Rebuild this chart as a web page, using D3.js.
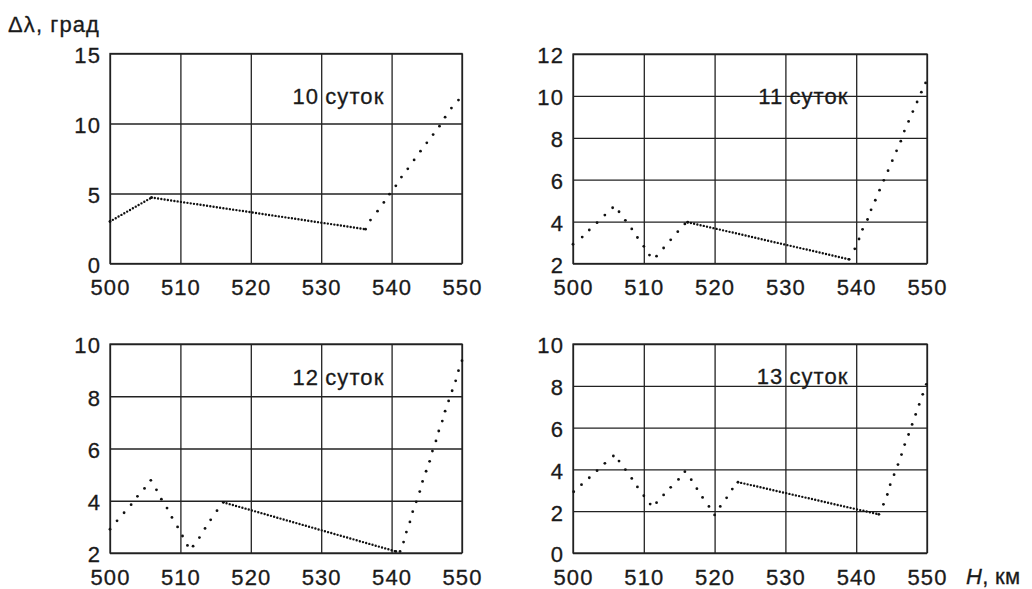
<!DOCTYPE html>
<html><head><meta charset="utf-8">
<script src="https://cdn.jsdelivr.net/npm/d3@7"></script>
<style>
body{margin:0;background:#fff;}
svg text{font-family:"Liberation Sans",Arial,sans-serif;font-size:22px;fill:#1a1a1a;letter-spacing:1.1px;stroke:#1a1a1a;stroke-width:0.3px;}
</style></head><body>
<svg id="c" width="1032" height="589"></svg>
<script>
// ---- data ----
const xTicks = [500, 510, 520, 530, 540, 550];
const labels = ["10", "11", "12", "13"];
const labelWord = "суток";
const yTitle = "Δλ, град";
const xTitle = ["H", ", км"];

const yDomain10 = [0, 15], yTicks10 = [0, 5, 10, 15];
const yDomain11 = [2, 12], yTicks11 = [2, 4, 6, 8, 10, 12];
const yDomain12 = [2, 10], yTicks12 = [2, 4, 6, 8, 10];
const yDomain13 = [0, 10], yTicks13 = [0, 2, 4, 6, 8, 10];

const h10 = [500, 505.9, 536.3, 537.0, 538.0, 538.9, 539.7, 540.6, 541.4, 542.3, 543.2, 544.1, 545.0, 545.9, 546.8, 547.6, 548.5, 549.5];
const v10 = [3.0, 4.71, 2.45, 3.10, 3.74, 4.36, 4.95, 5.55, 6.17, 6.76, 7.40, 8.02, 8.62, 9.21, 9.81, 10.45, 11.10, 11.67];

const h11 = [500.0, 501.3, 502.3, 503.4, 504.5, 505.6, 506.5, 507.4, 508.3, 509.1, 510.0, 510.8, 511.8, 512.8, 513.8, 514.8, 515.8, 516.2, 539.0, 539.8, 540.4, 540.9, 541.6, 542.1, 542.7, 543.3, 543.9, 544.5, 545.1, 545.7, 546.3, 546.8, 547.4, 548.0, 548.6, 549.2, 549.8];
const v11 = [2.92, 3.26, 3.60, 3.95, 4.31, 4.66, 4.47, 4.06, 3.65, 3.24, 2.82, 2.40, 2.35, 2.74, 3.13, 3.52, 3.89, 3.97, 2.20, 2.70, 3.17, 3.63, 4.10, 4.56, 5.02, 5.50, 5.97, 6.43, 6.91, 7.38, 7.84, 8.32, 8.78, 9.25, 9.71, 10.18, 10.62];

const h12 = [500.0, 501.0, 502.0, 503.0, 503.9, 504.9, 505.8, 506.6, 507.3, 508.1, 508.8, 509.6, 510.3, 511.0, 511.8, 512.7, 513.5, 514.3, 515.2, 516.1, 540.6, 541.2, 541.7, 542.1, 542.6, 543.0, 543.5, 544.0, 544.4, 544.9, 545.4, 545.8, 546.3, 546.7, 547.2, 547.6, 548.1, 548.6, 549.1, 549.5, 550.0];
const v12 = [2.91, 3.23, 3.54, 3.85, 4.17, 4.47, 4.78, 4.42, 4.06, 3.72, 3.36, 3.00, 2.65, 2.29, 2.26, 2.59, 2.94, 3.27, 3.62, 3.94, 2.06, 2.06, 2.42, 2.80, 3.19, 3.58, 3.96, 4.35, 4.74, 5.13, 5.51, 5.90, 6.29, 6.67, 7.05, 7.43, 7.82, 8.21, 8.59, 8.98, 9.36];

const h13 = [500.1, 501.2, 502.3, 503.4, 504.5, 505.7, 506.5, 507.4, 508.3, 509.1, 510.0, 510.9, 511.8, 512.8, 513.8, 514.9, 515.8, 516.7, 517.5, 518.3, 519.2, 520.0, 520.8, 521.7, 522.5, 523.3, 543.2, 543.85, 544.4, 544.8, 545.35, 545.9, 546.4, 546.85, 547.4, 547.9, 548.4, 548.9, 549.4, 549.9];
const v13 = [2.93, 3.27, 3.60, 3.94, 4.29, 4.64, 4.40, 3.99, 3.57, 3.16, 2.74, 2.34, 2.41, 2.78, 3.14, 3.52, 3.89, 3.51, 3.08, 2.66, 2.23, 1.82, 2.23, 2.64, 3.06, 3.39, 1.85, 2.33, 2.80, 3.27, 3.75, 4.23, 4.71, 5.19, 5.67, 6.15, 6.63, 7.11, 7.59, 8.07];

// label vertical positions (in data units of each panel)
const labelY = [11.4, 9.6, 8.43, 8.09];

// ---- layout ----
const panels = [
  {x0:110, x1:462, y0:53.5, y1:263.5, dom:yDomain10, ticks:yTicks10, h:h10, v:v10},
  {x0:573, x1:927, y0:54,   y1:263.5, dom:yDomain11, ticks:yTicks11, h:h11, v:v11},
  {x0:110, x1:462, y0:344,  y1:553,   dom:yDomain12, ticks:yTicks12, h:h12, v:v12},
  {x0:573, x1:927, y0:344,  y1:553,   dom:yDomain13, ticks:yTicks13, h:h13, v:v13}
];

const svg = d3.select("#c");
const ink = "#222";

panels.forEach((p, i) => {
  const x = d3.scaleLinear().domain([500, 550]).range([p.x0, p.x1]);
  const y = d3.scaleLinear().domain(p.dom).range([p.y1, p.y0]);
  const g = svg.append("g");
  const w = p.x1 - p.x0, hgt = p.y1 - p.y0;

  const gx = g.append("g").attr("transform", `translate(0,${p.y1})`)
    .call(d3.axisBottom(x).tickValues(xTicks).tickFormat(d3.format("d")).tickSize(-hgt).tickPadding(16));
  const gy = g.append("g").attr("transform", `translate(${p.x0},0)`)
    .call(d3.axisLeft(y).tickValues(p.ticks).tickFormat(d3.format("d")).tickSize(-w).tickPadding(9));
  [gx, gy].forEach(a => {
    a.select(".domain").remove();
    a.selectAll(".tick line").attr("stroke", ink).attr("stroke-width", 1.3);
    a.selectAll(".tick text").attr("fill", "#1a1a1a").style("font-size", "22px")
      .style("font-family", '"Liberation Sans",Arial,sans-serif');
  });
  gy.selectAll(".tick text").attr("dy", "0.4em");

  g.append("rect").attr("x", p.x0).attr("y", p.y0).attr("width", w).attr("height", hgt)
    .attr("fill", "none").attr("stroke", ink).attr("stroke-width", 1.3);

  const pts = p.h.map((hv, k) => [hv, p.v[k]]);
  // dense dotted stretches between widely spaced points
  for (let k = 0; k < pts.length - 1; k++) {
    if (pts[k+1][0] - pts[k][0] > 1.5) {
      g.append("path")
        .attr("d", d3.line().x(d => x(d[0])).y(d => y(d[1]))([pts[k], pts[k+1]]))
        .attr("fill", "none").attr("stroke", "#111").attr("stroke-width", 2.4)
        .attr("stroke-linecap", "round").attr("stroke-dasharray", "0 3.3");
    }
  }
  g.selectAll("circle.pt").data(pts).enter().append("circle")
    .attr("class", "pt").attr("cx", d => x(d[0])).attr("cy", d => y(d[1]))
    .attr("r", 1.4).attr("fill", "#111");

  // panel label
  g.append("text").attr("x", x(530) - 2).attr("y", y(labelY[i])).attr("text-anchor", "end").text(labels[i]);
  g.append("text").attr("x", x(530) + 4).attr("y", y(labelY[i])).attr("text-anchor", "start").text(labelWord);
});

svg.append("text").attr("x", 8).attr("y", 32).text(yTitle);
const xt = svg.append("text").attr("x", 966).attr("y", 584).style("letter-spacing", "0.3px");
xt.append("tspan").style("font-style", "italic").text(xTitle[0]);
xt.append("tspan").text(xTitle[1]);
</script>
</body></html>
